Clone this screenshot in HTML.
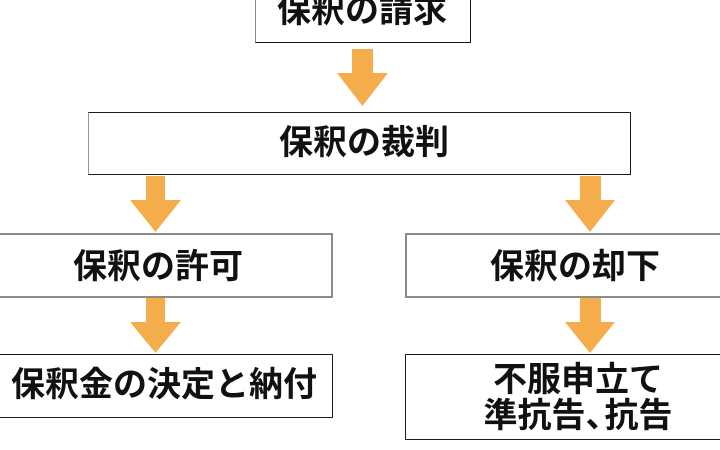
<!DOCTYPE html>
<html><head><meta charset="utf-8"><style>
html,body{margin:0;padding:0;background:#fff;}
body{width:720px;height:450px;position:relative;overflow:hidden;font-family:"Liberation Sans","Noto Sans CJK JP",sans-serif;}
.b{position:absolute;box-sizing:border-box;background:#fff;}
.d{border:1.5px solid #231815;}
.g{border:2px solid #8e8a86;}
.t{position:absolute;width:400px;text-align:center;font-size:34px;font-weight:700;color:#111;line-height:40px;white-space:nowrap;}
svg{position:absolute;left:0;top:0;}
</style></head><body>
<div class="b d" style="left:255px;top:-22px;width:216px;height:65px;border-left-color:#8e8a86;"></div>
<div class="b d" style="left:88px;top:112px;width:543px;height:63px;border-left-color:#9a9692;"></div>
<div class="b g" style="left:-6px;top:233px;width:339px;height:65px;"></div>
<div class="b d" style="left:-6px;top:354px;width:339px;height:64px;"></div>
<div class="b g" style="left:405px;top:233px;width:330px;height:65px;"></div>
<div class="b d" style="left:405px;top:354px;width:330px;height:86px;"></div>

<svg width="720" height="450">
<g fill="#f4ad4a">
<polygon points="352,49 373,49 373,73 388,73 362.5,106 337,73 352,73"/>
<polygon points="146,176 165,176 165,200 181,200 155.5,232 130,200 146,200"/>
<polygon points="146,298 165,298 165,322 181,322 155.5,353 130,322 146,322"/>
<polygon points="580,176 601,176 601,200 615,200 590,232 565,200 580,200"/>
<polygon points="580,298 601,298 601,322 615,322 590,353 565,322 580,322"/>
</g>
</svg>

<div class="t" style="left:162px;top:-9px;">保釈の請求</div>
<div class="t" style="left:164px;top:123px;">保釈の裁判</div>
<div class="t" style="left:-42px;top:247px;">保釈の許可</div>
<div class="t" style="left:-36px;top:365px;">保釈金の決定と納付</div>
<div class="t" style="left:375px;top:247px;">保釈の却下</div>
<div class="t" style="left:378px;top:362px;line-height:36px;">不服申立て<br>準抗告<span style="margin-right:-15px">、</span>抗告</div>
</body></html>
